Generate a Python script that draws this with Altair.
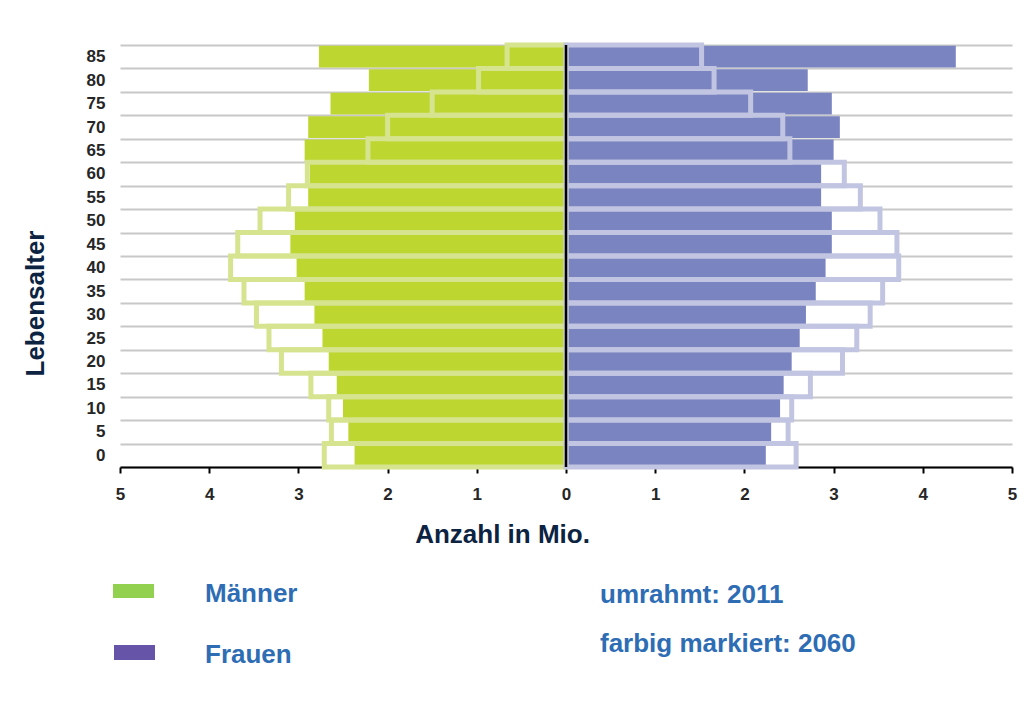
import altair as alt
import pandas as pd

# ---- data (Mio.) ----
ages = [0, 5, 10, 15, 20, 25, 30, 35, 40, 45, 50, 55, 60, 65, 70, 75, 80, 85]
male_2060 = [2.37, 2.44, 2.50, 2.57, 2.66, 2.73, 2.82, 2.93, 3.02, 3.09,
             3.04, 2.89, 2.87, 2.93, 2.89, 2.64, 2.21, 2.77]
female_2060 = [2.24, 2.30, 2.40, 2.44, 2.53, 2.62, 2.69, 2.80, 2.91, 2.98,
               2.98, 2.86, 2.86, 3.00, 3.07, 2.98, 2.71, 4.37]
male_2011 = [2.71, 2.63, 2.66, 2.86, 3.19, 3.33, 3.47, 3.61, 3.76, 3.68,
             3.43, 3.11, 2.90, 2.22, 2.00, 1.50, 0.98, 0.66]
female_2011 = [2.58, 2.49, 2.53, 2.74, 3.10, 3.26, 3.41, 3.55, 3.73, 3.71,
               3.52, 3.30, 3.12, 2.51, 2.43, 2.07, 1.66, 1.52]
sexes = ["Männer", "Frauen"]
x_ticks = [-5, -4, -3, -2, -1, 0, 1, 2, 3, 4, 5]

rows = []
for i, a in enumerate(ages):
    rows.append({"age": str(a), "sex": "Männer", "year": "2060", "val": -male_2060[i]})
    rows.append({"age": str(a), "sex": "Frauen", "year": "2060", "val": female_2060[i]})
    rows.append({"age": str(a), "sex": "Männer", "year": "2011", "val": -male_2011[i]})
    rows.append({"age": str(a), "sex": "Frauen", "year": "2011", "val": female_2011[i]})
df = pd.DataFrame(rows)

y_order = [str(a) for a in ages][::-1]

FONT = "Liberation Sans"
NAVY = "#0c2342"
BLUE = "#2e6db4"

y_enc = alt.Y(
    "age:N", sort=y_order,
    scale=alt.Scale(paddingInner=0, paddingOuter=0),
    axis=alt.Axis(
        title="Lebensalter", titleFont=FONT, titleFontSize=26, titleFontWeight="bold",
        titleColor=NAVY, titleAngle=270, titleX=-77, titleY=258,
        titleAlign="center", titleBaseline="alphabetic",
        labelFont=FONT, labelFontSize=17, labelFontWeight="bold",
        labelColor="#262626", labelPadding=15,
        ticks=False, tickSize=0, domain=False,
        grid=True, gridColor="#c8c8c8", gridWidth=2, tickBand="extent",
    ),
)
x_enc = alt.X(
    "val:Q",
    scale=alt.Scale(domain=[-5, 5], nice=False, zero=False),
    axis=alt.Axis(
        title="Anzahl in Mio.", titleFont=FONT, titleFontSize=26, titleFontWeight="bold",
        titleColor=NAVY, titleX=382, titleY=75, titleAlign="center",
        titleBaseline="alphabetic",
        values=x_ticks, labelExpr="format(abs(datum.value), 'd')",
        labelFont=FONT, labelFontSize=17, labelFontWeight="bold",
        labelColor="#262626", labelPadding=13,
        labelFlush=False,
        grid=False, domainColor="#000000", domainWidth=2,
        tickColor="#000000", tickWidth=2, tickSize=6,
    ),
)

base = alt.Chart(df)

fill = base.transform_filter(alt.datum.year == "2060").mark_bar(
    height={"band": 0.93}
).encode(
    y=y_enc, x=x_enc, x2=alt.datum(0),
    fill=alt.Fill("sex:N", scale=alt.Scale(domain=sexes, range=["#bed630", "#7a84c1"]),
                  legend=None),
)

outline = base.transform_filter(alt.datum.year == "2011").mark_bar(
    fillOpacity=0, strokeWidth=5
).encode(
    y=alt.Y("age:N", sort=y_order), x=alt.X("val:Q"), x2=alt.datum(0),
    stroke=alt.Stroke("sex:N", scale=alt.Scale(domain=sexes, range=["#d6e48f", "#c2c5e2"]),
                      legend=None),
)

center = alt.Chart(pd.DataFrame({"v": [0]})).mark_rule(
    color="#000000", strokeWidth=2.5
).encode(x=alt.X("v:Q"))

def swatch(x1, x2, y1, y2, color):
    return alt.Chart(pd.DataFrame({"k": [0]})).mark_rect(color=color).encode(
        x=alt.value(x1), x2=alt.value(x2), y=alt.value(y1), y2=alt.value(y2))

def label(txt, x, y, color, size=26):
    return alt.Chart(pd.DataFrame({"k": [0]})).mark_text(
        align="left", baseline="alphabetic", font=FONT, fontSize=size,
        fontWeight="bold", color=color
    ).encode(x=alt.value(x), y=alt.value(y), text=alt.value(txt))

legend_layers = [
    swatch(-7, 34, 539, 553, "#92d050"),
    swatch(-6, 35, 600, 615, "#6554a8"),
    label("Männer", 85, 557, BLUE),
    label("Frauen", 85, 618, BLUE),
    label("umrahmt: 2011", 480, 558, BLUE),
    label("farbig markiert: 2060", 480, 607, BLUE),
]

chart = alt.layer(fill, outline, center, *legend_layers).properties(
    width=892, height=422,
    autosize=alt.AutoSizeParams(type="none"),
    padding={"left": 112, "top": 37, "right": 6, "bottom": 226},
    background="white",
).configure_view(stroke=None)

chart.save("out.html", embed_options={"renderer": "svg", "actions": False})
